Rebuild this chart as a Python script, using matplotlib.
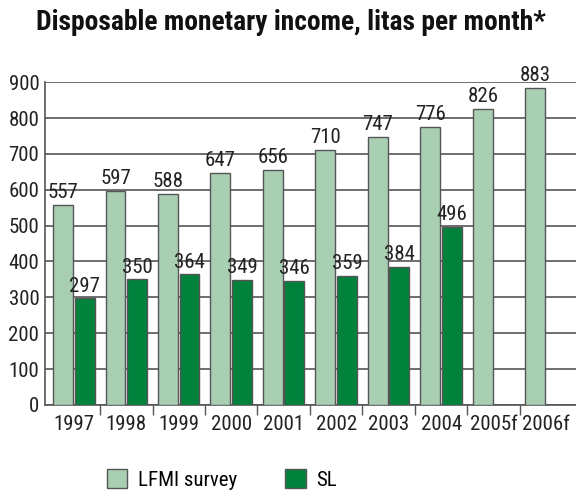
import matplotlib
matplotlib.use('Agg')
import matplotlib.pyplot as plt
from matplotlib.patches import Patch
from matplotlib import font_manager
import numpy as np

years = ['1997', '1998', '1999', '2000', '2001', '2002', '2003', '2004', '2005f', '2006f']
lfmi = [557, 597, 588, 647, 656, 710, 747, 776, 826, 883]
sl = [297, 350, 364, 349, 346, 359, 384, 496]

light = '#a9cfb3'
dark = '#00823c'
edge = '#555555'

# first condensed family that is installed
names = {f.name for f in font_manager.fontManager.ttflist}
narrow = 'DejaVu Sans'
for cand in ['Roboto Condensed', 'Liberation Sans Narrow', 'Archivo Narrow', 'Asap Condensed',
             'Open Sans Condensed', 'Barlow Semi Condensed', 'Barlow Condensed']:
    if cand in names:
        narrow = cand
        break
plt.rcParams['font.family'] = [narrow, 'DejaVu Sans']

fig = plt.figure(figsize=(5.76, 4.92), dpi=100)
ax = fig.add_axes([0.078, 0.177, 0.922, 0.656])

x = np.arange(len(years))
w = 0.38
off = 0.205

ax.bar(x - off, lfmi, w, color=light, edgecolor=edge, linewidth=1, zorder=3)
ax.bar(x[:len(sl)] + off, sl, w, color=dark, edgecolor=edge, linewidth=1, zorder=3)

for xi, v in zip(x - off, lfmi):
    ax.text(xi, v + 8, str(v), ha='center', va='bottom', fontsize=15, color='#222222', clip_on=False)
for xi, v in zip(x[:len(sl)] + off, sl):
    ax.text(xi, v + 8, str(v), ha='center', va='bottom', fontsize=15, color='#222222', clip_on=False)

ax.set_xlim(-0.55, 9.57)
ax.set_ylim(0, 900)
ax.set_yticks(range(0, 901, 100))
ax.yaxis.grid(True, color=edge, linewidth=1.2, zorder=0)
ax.set_axisbelow(True)

ax.set_xticks(x)
ax.set_xticklabels(years)
ax.set_xticks(x[:-1] + 0.5, minor=True)
ax.tick_params(axis='x', which='major', length=0, labelsize=15, pad=7, colors='#222222')
ax.tick_params(axis='x', which='minor', length=7, width=1, color=edge, direction='out')
ax.tick_params(axis='y', length=0, labelsize=15, pad=4, colors='#222222')

for s in ['top', 'right']:
    ax.spines[s].set_visible(False)
for s in ['left', 'bottom']:
    ax.spines[s].set_color(edge)
    ax.spines[s].set_linewidth(1.2)

fig.text(0.505, 0.939, 'Disposable monetary income, litas per month*', ha='center', va='baseline',
         fontsize=19.8, fontweight='bold', color='#111111')

handles = [Patch(facecolor=light, edgecolor=edge, label='LFMI survey'),
           Patch(facecolor=dark, edgecolor=edge, label='SL')]
fig.legend(handles=handles, loc='center', bbox_to_anchor=(0.385, 0.026), ncol=2, frameon=False,
           fontsize=15, handlelength=1.0, handleheight=1.05, handletextpad=0.5, columnspacing=2.3)

fig.savefig('out.png', dpi=100)
